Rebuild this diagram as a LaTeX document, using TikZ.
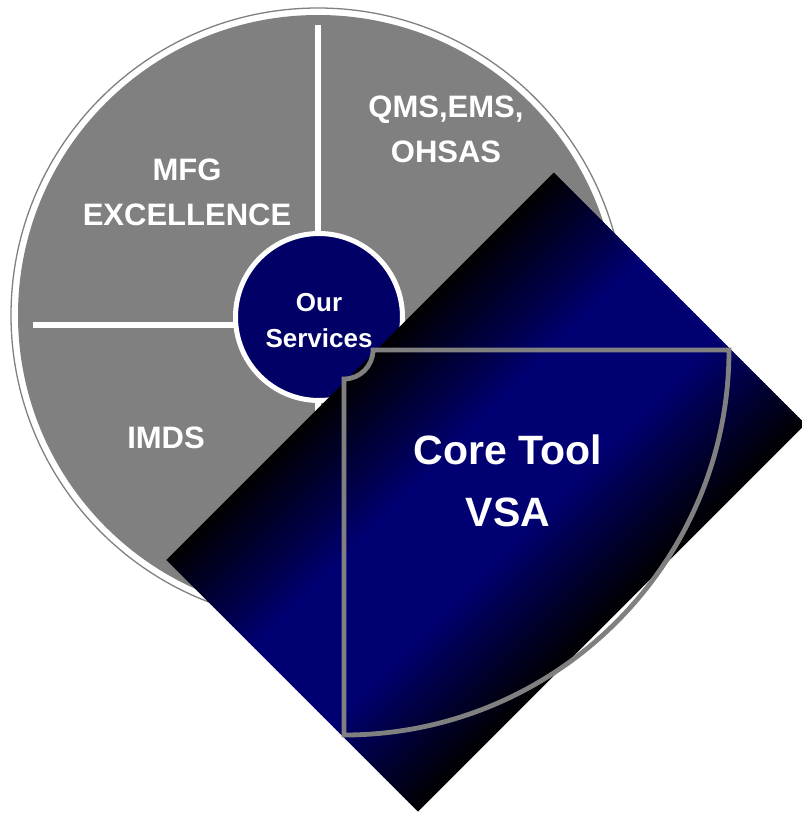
\documentclass[tikz,border=0pt]{standalone}
\usepackage{fontspec}
\setmainfont{Liberation Sans}
\usetikzlibrary{calc}
\definecolor{discgray}{RGB}{128,128,128}
\definecolor{hubnavy}{RGB}{0,0,102}
\definecolor{vsablue}{RGB}{0,0,114}
\begin{document}
\begin{tikzpicture}[x=1pt,y=-1pt,line join=round,
	seglabel/.style={text=white,font=\bfseries\fontsize{31}{45}\selectfont,align=center},
	hub/.style={circle,fill=hubnavy,draw=white,line width=5,minimum size=167,inner sep=0pt},
	rim/.style={white,line width=6},
	toolarc/.style={draw=discgray,line width=4.8,line join=miter}]
	\useasboundingbox (0,0) rectangle (801,814);
	\def\cx{318} \def\cy{315}
	\coordinate (O) at (\cx,\cy);
	\draw[discgray,line width=1.3] (O) circle (307);
	\fill[discgray] (O) circle (300);
	\draw[rim] (318,25) -- (318,605);
	\draw[rim] (33,325) -- (603,325);
	\node[hub] (hub) at (319,317) {};
	\node[seglabel,font=\bfseries\fontsize{26}{36}\selectfont] (hubtext) at (319,321) {Our\\Services};
	\node[seglabel] (mfg) at (187,192) {MFG\\EXCELLENCE};
	\node[seglabel] (qms) at (446,129) {QMS,EMS,\\OHSAS};
	\node[seglabel] (imds) at (166,438) {IMDS};
	% tilted card, dark at the long edges
	\begin{scope}[shift={(486,492)},rotate=-45]
	\clip (-178,-274) rectangle (178,274);
	\foreach \i in {1,...,80}{
		\pgfmathsetmacro\ua{-178+(\i-1)*4.45}
		\pgfmathsetmacro\t{abs(\ua+2.225)/178}
		\pgfmathsetmacro\m{min(100,max(0,100*(1-\t)/0.7))}
		\fill[vsablue!\m!black] (\ua,-274) rectangle ++(5.3,548);
	}
	\end{scope}
	\coordinate (apex) at (344,350);
	\draw[toolarc] ($(apex)+(29,0)$) -- ($(apex)+(385,0)$) arc[start angle=0,end angle=90,radius=385]
		-- ($(apex)+(0,29)$) arc[start angle=90,end angle=0,radius=29] -- cycle;
	\node[seglabel,font=\bfseries\fontsize{41}{62}\selectfont] (vsa) at (508,481) {Core Tool\\VSA};
\end{tikzpicture}
\end{document}
